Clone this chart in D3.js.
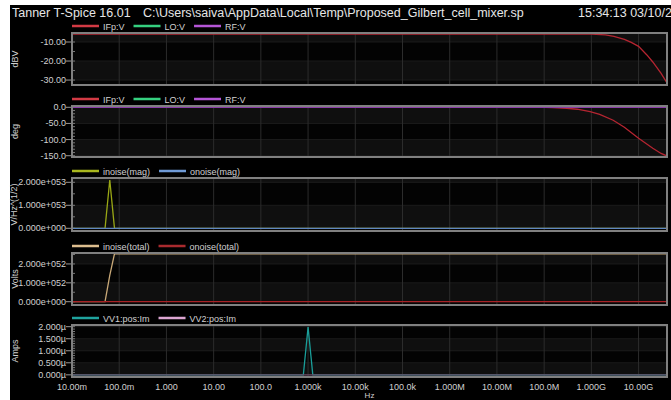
<!DOCTYPE html>
<html><head><meta charset="utf-8">
<script src="https://cdn.jsdelivr.net/npm/d3@7"></script>
<style>html,body{margin:0;padding:0;background:#fff;overflow:hidden}</style>
</head><body>
<svg id="c" width="671" height="400"></svg>
<script>
// ---------- text ----------
const titleLeft = "Tanner T-Spice 16.01";
const titlePath = "C:\\Users\\saiva\\AppData\\Local\\Temp\\Proposed_Gilbert_cell_mixer.sp";
const titleTime = "15:34:13 03/10/2";
const xAxisLabel = "Hz";

// ---------- x axis (frequency, log) ----------
const freqDomain = [1e-2, 4e10];
const freqTicks = [1e-2, 1e-1, 1, 10, 100, 1e3, 1e4, 1e5, 1e6, 1e7, 1e8, 1e9, 1e10];
const freqTickLabels = ["10.00m","100.0m","1.000","10.00","100.0","1.000k","10.00k","100.0k","1.000M","10.00M","100.0M","1.000G","10.00G"];

// ---------- panel 1: magnitude (dBV) ----------
const magFreq = [1e-2, 1e6, 1e8, 1e9, 2e9, 3e9, 5e9, 7e9, 1e10, 1.5e10, 2e10, 3e10, 4e10];
const magIFp  = [-5.8, -5.8, -5.8, -5.85, -6.2, -7.0, -8.6, -10.2, -12.3, -16.8, -20.5, -26.5, -31.5];
const magDomain = [-32.6, -5.26];
const magTicks = [-10, -20, -30];
const magTickLabels = ["-10.00", "-20.00", "-30.00"];

// ---------- panel 2: phase (deg) ----------
const phaseFreq = [1e-2, 1e7, 1e8, 1.5e8, 3e8, 5e8, 9.4e8, 1.5e9, 2.9e9, 5e9, 1e10, 2e10, 3e10, 4e10];
const phaseIFp  = [0, 0, -0.5, -1.2, -3, -6, -13.5, -22, -40, -62, -96, -127, -143, -151];
const phaseFlatFreq = [1e-2, 4e10];
const phaseLO = [0, 0];
const phaseRF = [0, 0];
const phaseDomain = [-154, 4];
const phaseTicks = [0, -50, -100, -150];
const phaseTickLabels = ["0.0", "-50.0", "-100.0", "-150.0"];

// ---------- panel 3: noise magnitude ----------
const noiseFreq = [1e-2, 0.0398, 0.0501, 0.0631, 0.0794, 0.1, 4e10];
const inoiseMag = [0, 0, 0, 2.1e53, 0, 0, 0];
const onoiseMag = [0, 0, 0, 0, 0, 0, 0];
const noiseMagDomain = [-0.117e53, 2.187e53];
const noiseMagTicks = [0, 1e53, 2e53];
const noiseMagTickLabels = ["0.000e+000", "1.000e+053", "2.000e+053"];

// ---------- panel 4: total noise ----------
const totalFreq = [1e-2, 0.0501, 0.0631, 0.0794, 4e10];
const inoiseTotal = [0, 0, 1.4e52, 2.54e52, 2.54e52];
const onoiseTotal = [0, 0, 0, 0, 0];
const totalDomain = [-0.175e52, 2.58e52];
const totalTicks = [0, 1e52, 2e52];
const totalTickLabels = ["0.000e+000", "1.000e+052", "2.000e+052"];

// ---------- panel 5: currents ----------
const curFreq = [1e-2, 794, 1000, 1259, 4e10];
const curVV1 = [0, 0, 1.98e-6, 0, 0];
const curVV2 = [0, 0, 0, 0, 0];
const curDomain = [-0.09e-6, 2.07e-6];
const curTicks = [0, 0.5e-6, 1e-6, 1.5e-6, 2e-6];
const curTickLabels = ["0.000\u00b5", "0.500\u00b5", "1.000\u00b5", "1.500\u00b5", "2.000\u00b5"];

// ---------- build ----------
const W = 671, H = 400;
const FONT = "'Liberation Sans', Arial, sans-serif";
const svg = d3.select("#c");
svg.append("rect").attr("x", 10).attr("y", 5).attr("width", W - 10).attr("height", H - 5).attr("fill", "#000");

const plotL = 72, plotR = 667;
const x = d3.scaleLog().domain(freqDomain).range([plotL, plotR]);

const panels = [
  { top: 33, bottom: 85, domain: magDomain, ticks: magTicks, labels: magTickLabels, minor: 5, ylabel: "dBV",
    legend: [["IFp:V", "#d23a44"], ["LO:V", "#35d07f"], ["RF:V", "#b455d6"]],
    series: [[magFreq, magIFp, "#b52531"]] },
  { top: 106, bottom: 157, domain: phaseDomain, ticks: phaseTicks, labels: phaseTickLabels, minor: 10, ylabel: "deg",
    legend: [["IFp:V", "#d23a44"], ["LO:V", "#35d07f"], ["RF:V", "#b455d6"]],
    series: [[phaseFreq, phaseIFp, "#b52531"], [phaseFlatFreq, phaseLO, "#35d07f"], [phaseFlatFreq, phaseRF, "#8a3aa8"]] },
  { top: 178, bottom: 231, domain: noiseMagDomain, ticks: noiseMagTicks, labels: noiseMagTickLabels, minor: 0.5e53, ylabel: "V/Hz^(1/2)",
    legend: [["inoise(mag)", "#aab81e"], ["onoise(mag)", "#6f9ad6"]],
    series: [[noiseFreq, inoiseMag, "#9aa815"], [noiseFreq, onoiseMag, "#5f86c0"]] },
  { top: 253, bottom: 305, domain: totalDomain, ticks: totalTicks, labels: totalTickLabels, minor: 0.5e52, ylabel: "Volts",
    legend: [["inoise(total)", "#dcbd8e"], ["onoise(total)", "#a82a2e"]],
    series: [[totalFreq, inoiseTotal, "#c9a978"], [totalFreq, onoiseTotal, "#a82226"]] },
  { top: 325, bottom: 377, domain: curDomain, ticks: curTicks, labels: curTickLabels, minor: 0.1e-6, ylabel: "Amps",
    legend: [["VV1:pos:Im", "#1fa39e"], ["VV2:pos:Im", "#dca6d2"]],
    series: [[curFreq, curVV1, "#1a9e99"], [curFreq, curVV2, "#6a4a66"]] }
];

// title
svg.append("text").attr("x", 12).attr("y", 17).attr("fill", "#e6e6e6").attr("font-family", FONT).attr("font-size", 12.5).text(titleLeft);
svg.append("text").attr("x", 143).attr("y", 17).attr("fill", "#e6e6e6").attr("font-family", FONT).attr("font-size", 12.5).text(titlePath);
svg.append("text").attr("x", 578).attr("y", 17).attr("fill", "#e6e6e6").attr("font-family", FONT).attr("font-size", 12.5).text(titleTime);

const defs = svg.append("defs");

panels.forEach((p, i) => {
  const y = d3.scaleLinear().domain(p.domain).range([p.bottom, p.top]);
  const g = svg.append("g");
  // bands
  const bounds = [p.domain[0], ...p.ticks.slice().sort((a, b) => a - b), p.domain[1]];
  for (let k = 0; k < bounds.length - 1; k++) {
    g.append("rect").attr("x", plotL).attr("width", plotR - plotL)
      .attr("y", y(bounds[k + 1])).attr("height", y(bounds[k]) - y(bounds[k + 1]))
      .attr("fill", k % 2 ? "#0f0f0f" : "#030303");
  }
  // horizontal grid at ticks
  p.ticks.forEach(t => g.append("line").attr("x1", plotL).attr("x2", plotR).attr("y1", y(t)).attr("y2", y(t))
    .attr("stroke", "#1c1c1c").attr("stroke-width", 1));
  // vertical grid at decades
  freqTicks.forEach(f => g.append("line").attr("x1", x(f)).attr("x2", x(f)).attr("y1", p.top).attr("y2", p.bottom)
    .attr("stroke", "#2c2c2c").attr("stroke-width", 1));
  // minor ticks (inside)
  const nMin = Math.ceil(p.domain[0] / p.minor), nMax = Math.floor(p.domain[1] / p.minor);
  for (let n = nMin; n <= nMax; n++) {
    const v = n * p.minor;
    g.append("line").attr("x1", plotL).attr("x2", plotL + 3).attr("y1", y(v)).attr("y2", y(v))
      .attr("stroke", "#777").attr("stroke-width", 1);
  }
  // major ticks + labels
  p.ticks.forEach((t, k) => {
    g.append("line").attr("x1", plotL - 6).attr("x2", plotL).attr("y1", y(t)).attr("y2", y(t)).attr("stroke", "#999");
    g.append("text").attr("x", plotL - 6).attr("y", y(t) + 3).attr("text-anchor", "end")
      .attr("fill", "#d0d0d0").attr("font-family", FONT).attr("font-size", 9).text(p.labels[k]);
  });
  // y label
  const cy = (p.top + p.bottom) / 2;
  g.append("text").attr("transform", `translate(${i === 2 ? 16.5 : 18},${cy}) rotate(-90)`).attr("text-anchor", "middle")
    .attr("fill", "#d0d0d0").attr("font-family", FONT).attr("font-size", 9).text(p.ylabel);
  // clip
  defs.append("clipPath").attr("id", "clip" + i).append("rect")
    .attr("x", plotL).attr("y", p.top).attr("width", plotR - plotL).attr("height", p.bottom - p.top);
  const line = d3.line().x(d => x(d[0])).y(d => y(d[1]));
  const sg = g.append("g").attr("clip-path", `url(#clip${i})`);
  p.series.forEach(s => {
    const pts = s[0].map((f, k) => [f, s[1][k]]);
    sg.append("path").attr("d", line(pts)).attr("fill", "none").attr("stroke", s[2]).attr("stroke-width", 1.3);
  });
  // frame
  g.append("rect").attr("x", plotL).attr("y", p.top).attr("width", plotR - plotL).attr("height", p.bottom - p.top)
    .attr("fill", "none").attr("stroke", "#808080").attr("stroke-width", 2);
  // legend
  let lx = plotL;
  const ly = p.top - 7;
  p.legend.forEach(([name, col]) => {
    g.append("line").attr("x1", lx).attr("x2", lx + 27).attr("y1", ly).attr("y2", ly).attr("stroke", col).attr("stroke-width", 2.5);
    const t = g.append("text").attr("x", lx + 31).attr("y", ly + 3.5).attr("fill", "#d0d0d0")
      .attr("font-family", FONT).attr("font-size", 9).text(name);
    lx = lx + 31 + t.node().getComputedTextLength() + 9;
  });
});

// x axis labels
const last = panels[panels.length - 1];
freqTicks.forEach((f, k) => {
  svg.append("text").attr("x", x(f)).attr("y", last.bottom + 12.5).attr("text-anchor", "middle")
    .attr("fill", "#d0d0d0").attr("font-family", FONT).attr("font-size", 9).text(freqTickLabels[k]);
});
svg.append("text").attr("x", (plotL + plotR) / 2).attr("y", 398).attr("text-anchor", "middle")
  .attr("fill", "#d0d0d0").attr("font-family", FONT).attr("font-size", 8).text(xAxisLabel);
</script>
</body></html>
